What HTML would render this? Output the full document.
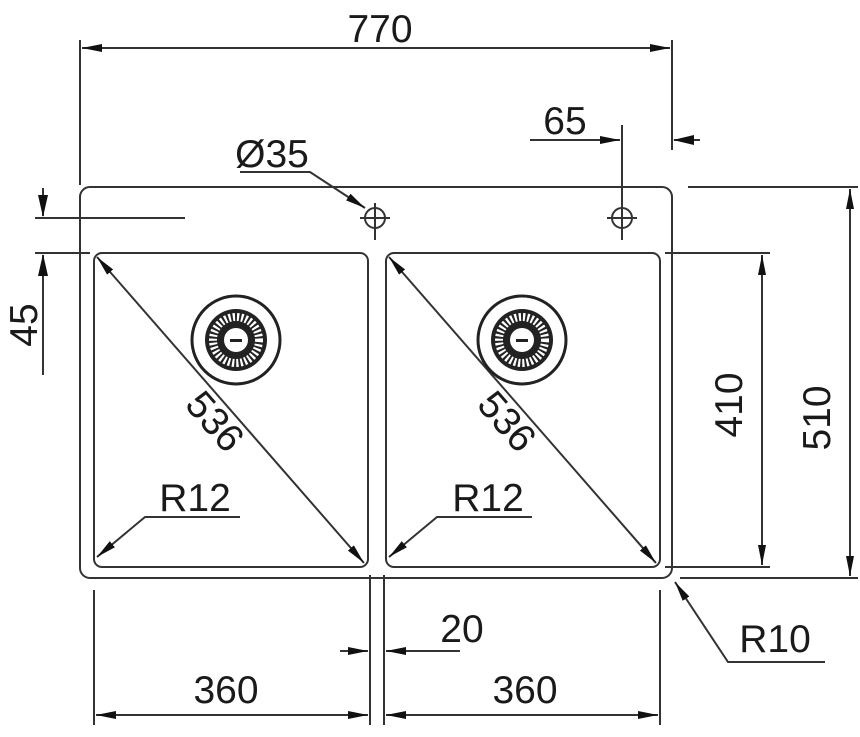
<!DOCTYPE html>
<html><head><style>body{margin:0;background:#fff}svg{display:block}text{font-family:"Liberation Sans",sans-serif;font-size:39px;fill:#1a1a1a}</style></head><body>
<svg width="860" height="737" viewBox="0 0 860 737" xmlns="http://www.w3.org/2000/svg">
<defs>
<marker id="a" viewBox="0 0 20 8" refX="20" refY="4" markerWidth="20" markerHeight="8" markerUnits="userSpaceOnUse" orient="auto-start-reverse"><path d="M0,0L20,4L0,8z" fill="#111"/></marker>
</defs>
<g stroke="#333" stroke-width="2" fill="none">
<rect x="80" y="187" width="592" height="391" rx="10"/>
<rect x="94" y="253" width="274" height="314" rx="8"/>
<rect x="386" y="253" width="274" height="314" rx="8"/>
<line x1="80" y1="40" x2="80" y2="185"/><line x1="672" y1="40" x2="672" y2="150"/>
<line x1="82" y1="48" x2="670" y2="48" marker-start="url(#a)" marker-end="url(#a)"/>
<line x1="530" y1="140" x2="620" y2="140" marker-end="url(#a)"/>
<line x1="700" y1="140" x2="674" y2="140"/>
<line x1="622" y1="125" x2="622" y2="240"/>
<circle cx="622" cy="218" r="10"/><line x1="607" y1="218" x2="637" y2="218"/>
<circle cx="375" cy="218" r="10"/><line x1="375" y1="203" x2="375" y2="240"/><line x1="360" y1="218" x2="390" y2="218"/>
<polyline points="240,172 310,172 365,208" marker-end="url(#a)"/>
<line x1="35" y1="218" x2="185" y2="218"/><line x1="35" y1="253" x2="90" y2="253"/>
<line x1="43" y1="188" x2="43" y2="216"/>
<line x1="43" y1="375" x2="43" y2="255"/>
<line x1="97" y1="257" x2="364" y2="563" marker-start="url(#a)" marker-end="url(#a)"/>
<line x1="389" y1="257" x2="656" y2="563" marker-start="url(#a)" marker-end="url(#a)"/>
<polyline points="240,517 145,517 97,557" marker-end="url(#a)"/>
<polyline points="532,517 437,517 389,557" marker-end="url(#a)"/>
<line x1="665" y1="253" x2="770" y2="253"/><line x1="665" y1="567" x2="770" y2="567"/>
<line x1="762" y1="255" x2="762" y2="565" marker-start="url(#a)" marker-end="url(#a)"/>
<line x1="688" y1="187" x2="858" y2="187"/><line x1="680" y1="578" x2="858" y2="578"/>
<line x1="850" y1="189" x2="850" y2="576" marker-start="url(#a)" marker-end="url(#a)"/>
<polyline points="825,662 728,662 675,582" marker-end="url(#a)"/>
<line x1="94" y1="590" x2="94" y2="725"/><line x1="370" y1="575" x2="370" y2="725"/>
<line x1="384" y1="575" x2="384" y2="725"/><line x1="660" y1="590" x2="660" y2="725"/>
<line x1="340" y1="651" x2="368" y2="651" marker-end="url(#a)"/>
<line x1="460" y1="651" x2="386" y2="651" marker-end="url(#a)"/>
<line x1="96" y1="715" x2="368" y2="715" marker-start="url(#a)" marker-end="url(#a)"/>
<line x1="386" y1="715" x2="658" y2="715" marker-start="url(#a)" marker-end="url(#a)"/>
</g>
<g fill="#111">
<path d="M673,140L694,135L694,145z"/>
<path d="M43,217L38,195L48,195z"/>
<path d="M43,254L38,276L48,276z"/>
</g>
<g>
<circle cx="236" cy="340" r="44" fill="none" stroke="#222" stroke-width="3"/>
<circle cx="236" cy="340" r="31" fill="#222"/>
<circle cx="236" cy="340" r="23" fill="none" stroke="#fff" stroke-width="8" stroke-dasharray="2.2 2"/>
<circle cx="236" cy="340" r="12" fill="#fff"/>
<rect x="230" y="339" width="12" height="3" fill="#222"/>
<circle cx="522" cy="340" r="44" fill="none" stroke="#222" stroke-width="3"/>
<circle cx="522" cy="340" r="31" fill="#222"/>
<circle cx="522" cy="340" r="23" fill="none" stroke="#fff" stroke-width="8" stroke-dasharray="2.2 2"/>
<circle cx="522" cy="340" r="12" fill="#fff"/>
<rect x="516" y="339" width="12" height="3" fill="#222"/>
</g>
<text x="380" y="42" text-anchor="middle">770</text>
<text x="565" y="134" text-anchor="middle">65</text>
<text x="272" y="167" text-anchor="middle">Ø35</text>
<text transform="translate(37,325) rotate(-90)" text-anchor="middle">45</text>
<text transform="translate(205,430) rotate(49)" text-anchor="middle">536</text>
<text transform="translate(497,430) rotate(49)" text-anchor="middle">536</text>
<text x="195" y="511" text-anchor="middle">R12</text>
<text x="488" y="511" text-anchor="middle">R12</text>
<text transform="translate(742,405) rotate(-90)" text-anchor="middle">410</text>
<text transform="translate(830,418) rotate(-90)" text-anchor="middle">510</text>
<text x="775" y="652" text-anchor="middle">R10</text>
<text x="462" y="642" text-anchor="middle">20</text>
<text x="226" y="703" text-anchor="middle">360</text>
<text x="525" y="703" text-anchor="middle">360</text>
</svg>
</body></html>
